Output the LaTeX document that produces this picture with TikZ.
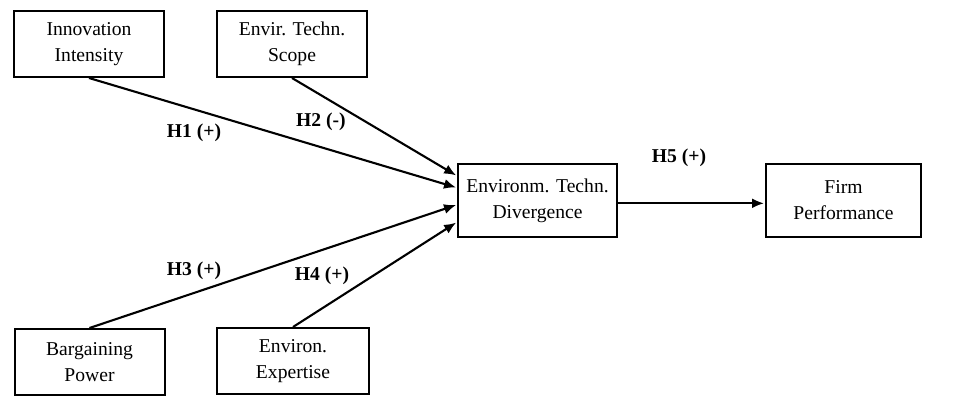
\documentclass[tikz,border=0pt]{standalone}
\usepackage{fontspec}
\setmainfont{Liberation Serif}
\usetikzlibrary{arrows.meta,positioning}

\begin{document}
\begin{tikzpicture}[x=0.5pt,y=-0.5pt]
                    \tikzstyle{every node}+=[font=\fontsize{9.8}{13}\selectfont, align=center]
                    \tikzstyle{var}=[draw=black, line width=1pt, minimum width=75pt, minimum height=33pt, inner sep=0pt]
                    \tikzstyle{core}=[var, minimum height=36.5pt]
                    \tikzstyle{hyp}=[font=\fontsize{9.8}{13}\selectfont\bfseries]
                    \tikzstyle{link}=[black, line width=1.05pt, -{Latex[length=6pt,width=5pt]}, shorten >=0.5pt]
                    \useasboundingbox (0,0) rectangle (972,396);
                    % antecedents
                    \node [var] (innov) at (89,44) {Innovation\\Intensity};
                    \node [var] (scope) at (292,44) {Envir. Techn.\\Scope};
                    \node [var] (barg) at (89.5,362) {Bargaining\\Power};
                    \node [var, minimum width=76pt] (expert) at (293,361) {Environ.\\Expertise};
                    % divergence and outcome
                    \node [core, minimum width=79.5pt] (diverg) at (537.5,200.5) {Environm. Techn.\\Divergence};
                    \node [core, minimum width=77.5pt] (perf) at (843.5,200.5) {Firm\\Performance};
                    % hypotheses
                    \draw [link] (innov.south) -- (diverg.171);
                    \draw [link] (scope.south) -- (diverg.163.5);
                    \draw [link] (barg.north) -- (diverg.183.2);
                    \draw [link] (expert.north) -- (diverg.195.1);
                    \draw [link] (diverg.358.2) -- (diverg.358.2 -| perf.west);
                    \node [hyp] (h1) at (194,133) {H1 (+)};
                    \node [hyp] (h2) at (321,122) {H2 (-)};
                    \node [hyp] (h3) at (194,271) {H3 (+)};
                    \node [hyp] (h4) at (322,276) {H4 (+)};
                    \node [hyp] (h5) at (679,158) {H5 (+)};
\end{tikzpicture}
\end{document}
